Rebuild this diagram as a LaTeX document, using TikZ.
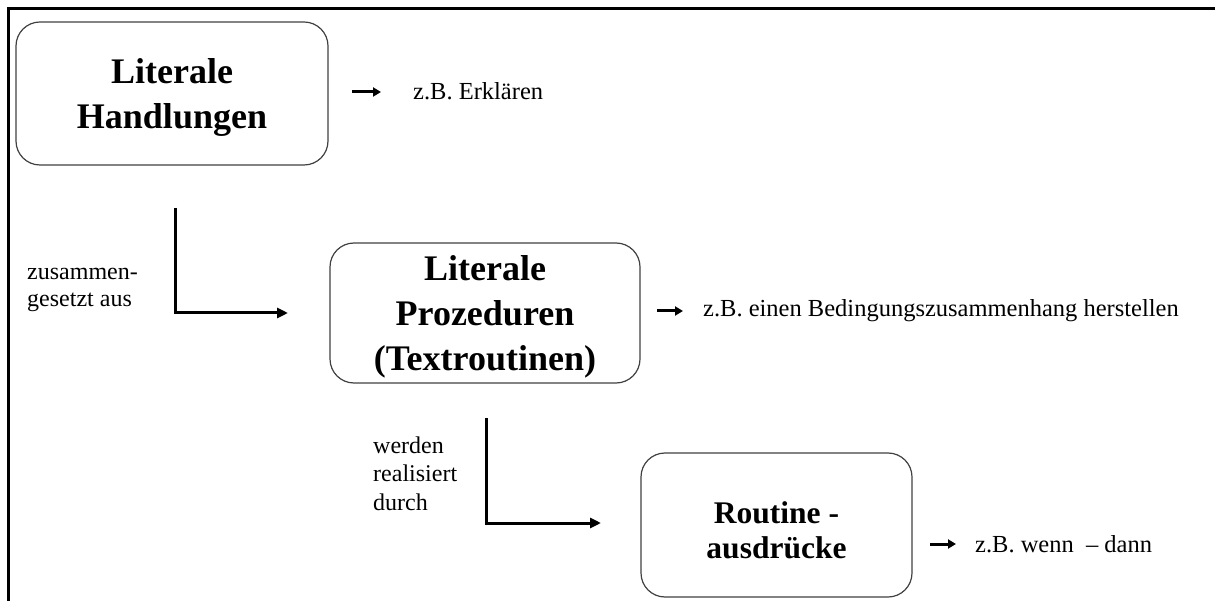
\documentclass[tikz,border=0pt]{standalone}
\usepackage{fontspec}
\setmainfont{Liberation Serif}
\usetikzlibrary{arrows.meta}
\begin{document}
\begin{tikzpicture}[x=1pt,y=-1pt,
  stage/.style={draw=black!75, line width=1.2pt, rounded corners=24pt,
    inner sep=0pt, align=center, text depth=0pt,
    font=\fontsize{36}{45}\selectfont\bfseries},
  note/.style={anchor=base west, inner sep=0pt, font=\fontsize{24.5}{28}\selectfont},
  sidetext/.style={anchor=base west, inner sep=0pt, align=left,
    font=\fontsize{24}{28.5}\selectfont},
  link/.style={line width=3pt, -{Triangle[length=11pt,width=10pt]}},
  pointer/.style={line width=3pt, -{Triangle[length=8pt,width=9pt]}}]
\useasboundingbox (0,0) rectangle (1215,601);

% open frame: top and left edges only
\coordinate (frameTR) at (1220,9);
\coordinate (frameTL) at (8,9);
\coordinate (frameBL) at (8,610);
\draw[line width=3pt] (frameTR) -- (frameTL) -- (frameBL);

% the three levels
\node[stage, minimum width=312pt, minimum height=143pt] (handlungen) at (172,93.5)
  {Literale\\Handlungen};
\node[stage, minimum width=310pt, minimum height=140pt] (prozeduren) at (485,313)
  {Literale\\Prozeduren\\(Textroutinen)};
\node[stage, minimum width=271pt, minimum height=144pt, text height=66pt,
  font=\fontsize{31.5}{35}\selectfont\bfseries] (ausdruecke) at (776.5,525)
  {Routine -\\ausdrücke};

% examples
\coordinate (p1a) at (352,92);  \coordinate (p1b) at (381,92);
\coordinate (p2a) at (657,311); \coordinate (p2b) at (683,311);
\coordinate (p3a) at (930,544); \coordinate (p3b) at (956,544);
\node[note] (ex1) at (413,100) {z.B. Erklären};
\node[note] (ex2) at (703,317) {z.B. einen Bedingungszusammenhang herstellen};
\node[note] (ex3) at (975,552) {z.B. wenn \ – dann};
\draw[pointer] (p1a) -- (p1b);
\draw[pointer] (p2a) -- (p2b);
\draw[pointer] (p3a) -- (p3b);

% level connectors
\coordinate (c1top) at (175,208);
\coordinate (c1end) at (288,313);
\coordinate (c2top) at (486,418);
\coordinate (c2end) at (601,523);
\draw[link] (c1top) |- (c1end);
\draw[link] (c2top) |- (c2end);

% connector captions (anchored at the baseline of the last line)
\node[sidetext, font=\fontsize{24}{27}\selectfont] (zus) at (27,307)
  {zusammen-\\gesetzt aus};
\node[sidetext] (wer) at (373,510) {werden\\realisiert\\durch};
\end{tikzpicture}
\end{document}
